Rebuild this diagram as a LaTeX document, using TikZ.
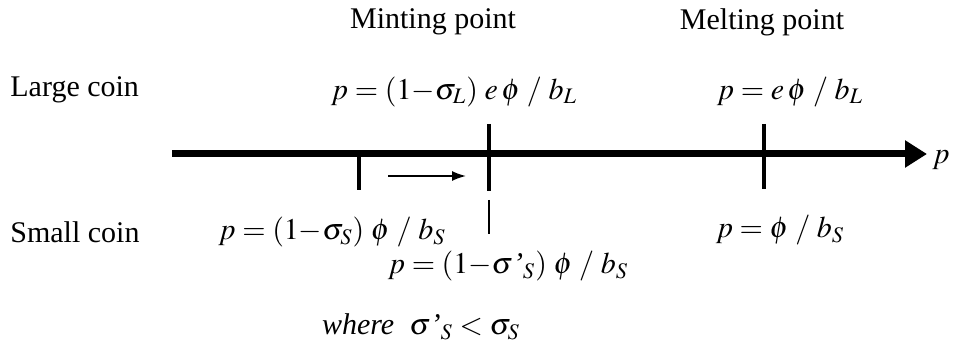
\documentclass[tikz,border=0pt]{standalone}
\usepackage{mathptmx}
\usepackage{fontspec}
\setmainfont{Liberation Serif}
\usetikzlibrary{arrows.meta}
\tikzset{
  lbl/.style={font=\fontsize{15}{18}\selectfont, inner sep=0pt},
  mark tick/.style={line width=2.3pt},
  thin tick/.style={line width=0.7pt},
  price axis/.style={line width=3.5pt, -{Triangle[length=11pt,width=13pt]}},
  shift arrow/.style={line width=0.8pt, -{Latex[length=7pt,width=5pt]}}
}
\newcommand*{\sgp}{\sigma\mbox{\itshape '}}

\begin{document}
\begin{tikzpicture}[x=0.5pt, y=-0.5pt]
  \useasboundingbox (0,0) rectangle (956,346);

  % Axis
  \coordinate (a0) at (172,154);
  \coordinate (a1) at (927,154);
  \draw[price axis] (a0) -- (a1);
  \node[lbl] (pvar) at (941,160) {$p$};

  % Ticks
  \coordinate (t1a) at (359,154);
  \coordinate (t1b) at (359,190);
  \coordinate (t2a) at (489,124);
  \coordinate (t2b) at (489,191);
  \coordinate (t3a) at (764,124);
  \coordinate (t3b) at (764,189);
  \coordinate (t4a) at (489,200);
  \coordinate (t4b) at (489,234);
  \draw[mark tick] (t1a) -- (t1b);
  \draw[mark tick] (t2a) -- (t2b);
  \draw[mark tick] (t3a) -- (t3b);
  \draw[thin tick] (t4a) -- (t4b);

  % Shift of the minting point
  \coordinate (s0) at (388,176);
  \coordinate (s1) at (466,176);
  \draw[shift arrow] (s0) -- (s1);

  % Headings
  \node[lbl] (mint) at (433,22) {Minting point};
  \node[lbl] (melt) at (762,22) {Melting point};

  % Large coin
  \node[lbl, anchor=west] (large) at (10,90) {Large coin};
  \node[lbl] (lmint) at (454,92) {$p = (1{-}\sigma_L)\;e\,\phi\;/\;b_L$};
  \node[lbl] (lmelt) at (790,92) {$p = e\,\phi\;/\;b_L$};

  % Small coin
  \node[lbl, anchor=west] (small) at (10,232) {Small coin};
  \node[lbl] (smint) at (332,232) {$p = (1{-}\sigma_S)\;\phi\;/\;b_S$};
  \node[lbl] (snew) at (508,266) {$p = (1{-}\sgp_S)\;\phi\;/\;b_S$};
  \node[lbl] (smelt) at (780,230) {$p = \phi\;/\;b_S$};

  \node[lbl] (cond) at (421,327) {\textit{where}\enspace$\sgp_S < \sigma_S$};
\end{tikzpicture}
\end{document}
